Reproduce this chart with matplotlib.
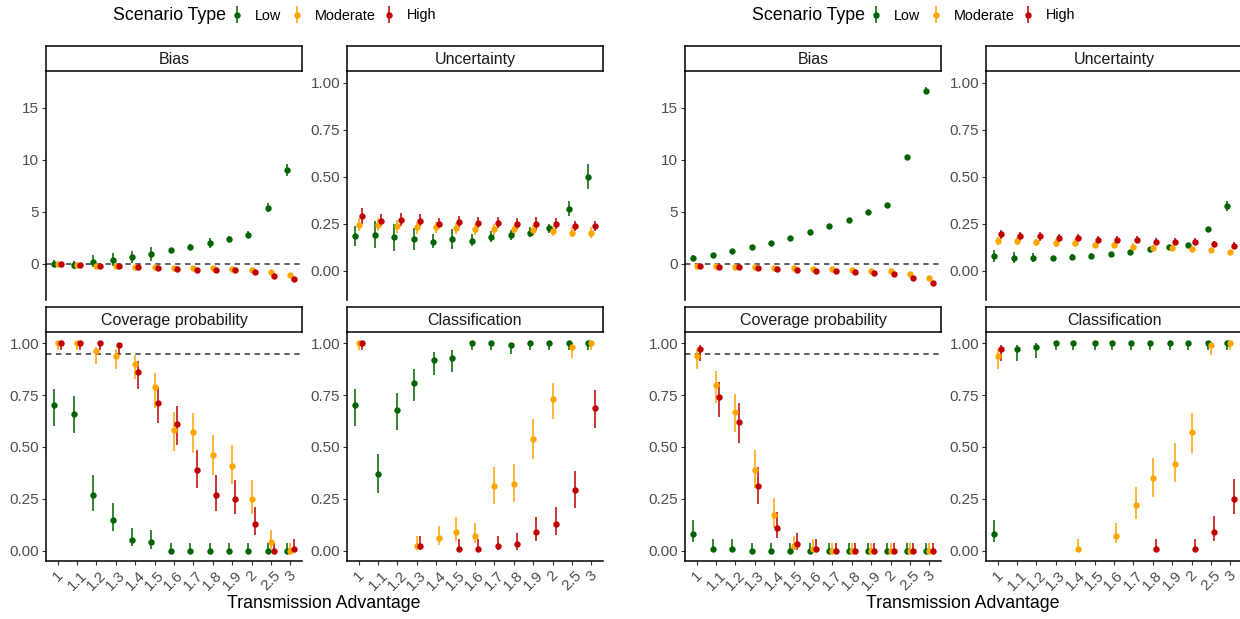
import numpy as np
import matplotlib.pyplot as plt
from matplotlib import font_manager

plt.rcParams['font.family'] = ['Liberation Sans', 'DejaVu Sans']

# narrower face for the legend and axis title when it is available
_installed = {f.name for f in font_manager.fontManager.ttflist}
if 'Liberation Sans Narrow' in _installed:
    narrow_family, narrow_scale = 'Liberation Sans Narrow', 1.0
else:
    narrow_family, narrow_scale = 'Liberation Sans', 0.88

nan = np.nan

categories = ['1', '1.1', '1.2', '1.3', '1.4', '1.5', '1.6', '1.7', '1.8', '1.9', '2', '2.5', '3']
groups = ['Low', 'Moderate', 'High']
group_colors = ['#006400', '#FFA500', '#C00000']

# ---- left figure: estimate / lower / upper, rows are Low, Moderate, High ----
a_bias_est = [
    [0.0, -0.1, 0.2, 0.4, 0.6, 0.9, 1.3, 1.6, 2.0, 2.4, 2.8, 5.4, 9.0],
    [-0.06, -0.13, -0.22, -0.26, -0.32, -0.35, -0.42, -0.42, -0.45, -0.50, -0.58, -0.80, -1.13],
    [0.0, -0.10, -0.22, -0.26, -0.35, -0.45, -0.48, -0.58, -0.60, -0.65, -0.77, -1.19, -1.48],
]
a_bias_lo = [
    [-0.3, -0.5, -0.3, -0.2, 0.1, 0.3, 1.1, 1.4, 1.5, 2.2, 2.5, 5.0, 8.4],
    [-0.14, -0.21, -0.30, -0.34, -0.40, -0.43, -0.50, -0.50, -0.53, -0.58, -0.66, -0.90, -1.23],
    [-0.08, -0.18, -0.30, -0.34, -0.43, -0.53, -0.56, -0.66, -0.68, -0.73, -0.85, -1.29, -1.58],
]
a_bias_hi = [
    [0.4, 0.3, 0.8, 1.0, 1.2, 1.6, 1.5, 1.9, 2.5, 2.7, 3.1, 5.8, 9.6],
    [0.02, -0.05, -0.14, -0.18, -0.24, -0.27, -0.34, -0.34, -0.37, -0.42, -0.50, -0.70, -1.03],
    [0.08, -0.02, -0.14, -0.18, -0.27, -0.37, -0.40, -0.50, -0.52, -0.57, -0.69, -1.09, -1.38],
]

a_unc_est = [
    [0.186, 0.19, 0.18, 0.17, 0.155, 0.17, 0.16, 0.18, 0.19, 0.20, 0.225, 0.33, 0.50],
    [0.245, 0.245, 0.235, 0.23, 0.23, 0.225, 0.22, 0.22, 0.22, 0.215, 0.21, 0.20, 0.20],
    [0.29, 0.265, 0.268, 0.265, 0.25, 0.26, 0.255, 0.255, 0.25, 0.25, 0.25, 0.24, 0.235],
]
a_unc_lo = [
    [0.13, 0.12, 0.105, 0.11, 0.12, 0.115, 0.13, 0.15, 0.165, 0.18, 0.20, 0.29, 0.435],
    [0.21, 0.21, 0.20, 0.195, 0.20, 0.195, 0.19, 0.19, 0.19, 0.19, 0.185, 0.18, 0.175],
    [0.25, 0.235, 0.235, 0.235, 0.225, 0.23, 0.225, 0.225, 0.22, 0.215, 0.22, 0.21, 0.21],
]
a_unc_hi = [
    [0.24, 0.265, 0.25, 0.225, 0.195, 0.22, 0.195, 0.21, 0.215, 0.23, 0.25, 0.37, 0.565],
    [0.28, 0.28, 0.27, 0.26, 0.26, 0.255, 0.25, 0.25, 0.245, 0.245, 0.24, 0.23, 0.23],
    [0.335, 0.30, 0.305, 0.30, 0.28, 0.29, 0.285, 0.285, 0.28, 0.285, 0.28, 0.265, 0.265],
]

a_cov_est = [
    [0.70, 0.66, 0.27, 0.15, 0.05, 0.04, 0.0, 0.0, 0.0, 0.0, 0.0, 0.0, 0.0],
    [1.0, 1.0, 0.96, 0.94, 0.90, 0.79, 0.58, 0.57, 0.46, 0.41, 0.25, 0.04, 0.0],
    [1.0, 1.0, 1.0, 0.99, 0.86, 0.71, 0.61, 0.39, 0.27, 0.25, 0.13, 0.0, 0.01],
]
a_cov_lo = [
    [0.60, 0.565, 0.19, 0.095, 0.02, 0.01, 0.0, 0.0, 0.0, 0.0, 0.0, 0.0, 0.0],
    [0.965, 0.965, 0.90, 0.875, 0.826, 0.69, 0.48, 0.47, 0.365, 0.32, 0.175, 0.01, 0.0],
    [0.965, 0.965, 0.965, 0.95, 0.778, 0.614, 0.51, 0.30, 0.193, 0.175, 0.076, 0.0, 0.002],
]
a_cov_hi = [
    [0.78, 0.745, 0.365, 0.23, 0.11, 0.10, 0.035, 0.035, 0.035, 0.035, 0.035, 0.035, 0.035],
    [1.0, 1.0, 0.984, 0.97, 0.945, 0.858, 0.67, 0.662, 0.558, 0.508, 0.34, 0.10, 0.035],
    [1.0, 1.0, 1.0, 1.0, 0.915, 0.788, 0.698, 0.486, 0.365, 0.341, 0.209, 0.035, 0.055],
]

a_cls_est = [
    [0.70, 0.37, 0.68, 0.81, 0.92, 0.93, 1.0, 1.0, 0.99, 1.0, 1.0, 1.0, 1.0],
    [1.0, nan, nan, 0.02, 0.06, 0.09, 0.07, 0.31, 0.32, 0.54, 0.73, 0.98, 1.0],
    [1.0, nan, nan, 0.02, nan, 0.01, 0.01, 0.02, 0.03, 0.09, 0.13, 0.29, 0.69],
]
a_cls_lo = [
    [0.60, 0.28, 0.582, 0.722, 0.849, 0.863, 0.965, 0.965, 0.95, 0.965, 0.965, 0.965, 0.965],
    [0.965, nan, nan, 0.002, 0.025, 0.045, 0.035, 0.225, 0.235, 0.44, 0.635, 0.93, 0.965],
    [0.965, nan, nan, 0.002, nan, 0.0, 0.0, 0.002, 0.005, 0.045, 0.075, 0.206, 0.593],
]
a_cls_hi = [
    [0.78, 0.466, 0.762, 0.875, 0.957, 0.965, 1.0, 1.0, 1.0, 1.0, 1.0, 1.0, 1.0],
    [1.0, nan, nan, 0.07, 0.12, 0.16, 0.135, 0.405, 0.416, 0.635, 0.807, 1.0, 1.0],
    [1.0, nan, nan, 0.07, nan, 0.055, 0.055, 0.07, 0.085, 0.16, 0.21, 0.386, 0.772],
]

# ---- right figure ----
b_bias_est = [
    [0.58, 0.87, 1.19, 1.61, 2.03, 2.48, 3.02, 3.60, 4.24, 4.95, 5.66, 10.32, 16.66],
    [-0.19, -0.22, -0.29, -0.35, -0.42, -0.45, -0.51, -0.55, -0.61, -0.68, -0.74, -1.03, -1.38],
    [-0.22, -0.29, -0.35, -0.45, -0.55, -0.61, -0.68, -0.74, -0.84, -0.93, -1.00, -1.41, -1.83],
]
b_bias_lo = [
    [0.35, 0.70, 1.05, 1.50, 1.95, 2.40, 2.95, 3.50, 4.15, 4.85, 5.55, 10.20, 16.30],
    [-0.27, -0.30, -0.37, -0.43, -0.50, -0.53, -0.59, -0.63, -0.69, -0.76, -0.82, -1.13, -1.48],
    [-0.30, -0.37, -0.43, -0.53, -0.63, -0.69, -0.76, -0.82, -0.92, -1.01, -1.08, -1.51, -1.93],
]
b_bias_hi = [
    [0.80, 1.05, 1.35, 1.75, 2.12, 2.58, 3.10, 3.70, 4.33, 5.05, 5.78, 10.45, 17.00],
    [-0.11, -0.14, -0.21, -0.27, -0.34, -0.37, -0.43, -0.47, -0.53, -0.60, -0.66, -0.93, -1.28],
    [-0.14, -0.21, -0.27, -0.37, -0.47, -0.53, -0.60, -0.66, -0.76, -0.85, -0.92, -1.31, -1.73],
]

b_unc_est = [
    [0.078, 0.07, 0.07, 0.066, 0.074, 0.08, 0.09, 0.10, 0.113, 0.124, 0.137, 0.22, 0.344],
    [0.158, 0.158, 0.15, 0.147, 0.147, 0.137, 0.137, 0.128, 0.12, 0.119, 0.117, 0.11, 0.10],
    [0.193, 0.183, 0.183, 0.174, 0.172, 0.165, 0.165, 0.165, 0.154, 0.154, 0.154, 0.142, 0.133],
]
b_unc_lo = [
    [0.045, 0.04, 0.045, 0.06, 0.06, 0.07, 0.08, 0.092, 0.105, 0.116, 0.128, 0.21, 0.32],
    [0.138, 0.138, 0.13, 0.127, 0.125, 0.12, 0.12, 0.112, 0.106, 0.105, 0.104, 0.10, 0.09],
    [0.17, 0.16, 0.16, 0.152, 0.15, 0.145, 0.145, 0.145, 0.135, 0.135, 0.135, 0.125, 0.117],
]
b_unc_hi = [
    [0.11, 0.10, 0.095, 0.072, 0.09, 0.095, 0.10, 0.108, 0.121, 0.132, 0.146, 0.23, 0.37],
    [0.178, 0.178, 0.17, 0.167, 0.168, 0.155, 0.155, 0.145, 0.135, 0.134, 0.131, 0.12, 0.11],
    [0.218, 0.206, 0.206, 0.196, 0.194, 0.185, 0.185, 0.185, 0.173, 0.173, 0.173, 0.16, 0.15],
]

b_cov_est = [
    [0.08, 0.01, 0.01, 0.0, 0.0, 0.0, 0.0, 0.0, 0.0, 0.0, 0.0, 0.0, 0.0],
    [0.94, 0.80, 0.67, 0.39, 0.17, 0.02, 0.01, 0.0, 0.0, 0.0, 0.0, 0.0, 0.0],
    [0.97, 0.74, 0.62, 0.31, 0.11, 0.03, 0.01, 0.0, 0.0, 0.0, 0.0, 0.0, 0.0],
]
b_cov_lo = [
    [0.04, 0.0, 0.0, 0.0, 0.0, 0.0, 0.0, 0.0, 0.0, 0.0, 0.0, 0.0, 0.0],
    [0.875, 0.71, 0.574, 0.30, 0.11, 0.002, 0.0, 0.0, 0.0, 0.0, 0.0, 0.0, 0.0],
    [0.915, 0.646, 0.52, 0.225, 0.06, 0.005, 0.0, 0.0, 0.0, 0.0, 0.0, 0.0, 0.0],
]
b_cov_hi = [
    [0.15, 0.055, 0.055, 0.035, 0.035, 0.035, 0.035, 0.035, 0.035, 0.035, 0.035, 0.035, 0.035],
    [0.97, 0.868, 0.754, 0.486, 0.255, 0.07, 0.055, 0.035, 0.035, 0.035, 0.035, 0.035, 0.035],
    [0.99, 0.815, 0.71, 0.405, 0.185, 0.085, 0.055, 0.035, 0.035, 0.035, 0.035, 0.035, 0.035],
]

b_cls_est = [
    [0.08, 0.97, 0.98, 1.0, 1.0, 1.0, 1.0, 1.0, 1.0, 1.0, 1.0, 1.0, 1.0],
    [0.94, nan, nan, nan, 0.01, nan, 0.07, 0.22, 0.35, 0.42, 0.57, 0.99, 1.0],
    [0.97, nan, nan, nan, nan, nan, nan, nan, 0.01, nan, 0.01, 0.09, 0.25],
]
b_cls_lo = [
    [0.04, 0.915, 0.93, 0.965, 0.965, 0.965, 0.965, 0.965, 0.965, 0.965, 0.965, 0.965, 0.965],
    [0.875, nan, nan, nan, 0.0, nan, 0.035, 0.151, 0.26, 0.33, 0.47, 0.945, 0.965],
    [0.915, nan, nan, nan, nan, nan, nan, nan, 0.0, nan, 0.0, 0.045, 0.175],
]
b_cls_hi = [
    [0.15, 0.99, 1.0, 1.0, 1.0, 1.0, 1.0, 1.0, 1.0, 1.0, 1.0, 1.0, 1.0],
    [0.97, nan, nan, nan, 0.055, nan, 0.135, 0.309, 0.445, 0.518, 0.665, 1.0, 1.0],
    [0.99, nan, nan, nan, nan, nan, nan, nan, 0.055, nan, 0.055, 0.165, 0.345],
]

W, H = 1240, 619
fig = plt.figure(figsize=(W / 100, H / 100), dpi=100)


def rect(x0, y0, x1, y1):
    return [x0 / W, 1 - y1 / H, (x1 - x0) / W, (y1 - y0) / H]


def dodge_positions(est, width=0.5):
    # like position_dodge: spread only the groups that have a value at each x
    est = np.asarray(est, dtype=float)
    pos = np.full(est.shape, nan)
    for i in range(est.shape[1]):
        present = [g for g in range(est.shape[0]) if not np.isnan(est[g, i])]
        n = len(present)
        for k, g in enumerate(present):
            pos[g, i] = (i + 1) + (k - (n - 1) / 2) * width / n
    return pos


def panel(x0, y0, x1, y1, title, est, lo, hi, ylim, yticks, yticklabels, ref=None, bottom=False):
    ax = fig.add_axes(rect(x0, y0, x1, y1))
    ax.patch.set_visible(False)
    pos = dodge_positions(est)
    for g in range(3):
        ax.vlines(pos[g], lo[g], hi[g], color=group_colors[g], lw=1.3, alpha=0.85, zorder=3)
        ax.plot(pos[g], est[g], 'o', color=group_colors[g], ms=4.6, mew=0, zorder=4)
    if ref is not None:
        ax.axhline(ref, color='#333333', lw=1.1, ls=(0, (3.5, 3)), zorder=2)
    ax.set_xlim(0.4, 13.6)
    ax.set_ylim(*ylim)
    ax.set_yticks(yticks)
    ax.set_yticklabels(yticklabels)
    for s in ['top', 'right']:
        ax.spines[s].set_visible(False)
    ax.spines['left'].set_linewidth(1.1)
    ax.tick_params(axis='y', length=3, width=0.8, color='#333333', labelsize=11,
                   labelcolor='#4D4D4D', pad=2)
    if bottom:
        ax.spines['bottom'].set_linewidth(1.1)
        ax.set_xticks(range(1, 14))
        ax.set_xticklabels(categories, rotation=45, ha='center', va='top')
        ax.tick_params(axis='x', length=3, width=0.8, color='#333333', labelsize=11,
                       labelcolor='#4D4D4D', pad=2)
    else:
        ax.spines['bottom'].set_visible(False)
        ax.set_xticks([])

    # facet strip above the panel
    sax = fig.add_axes(rect(x0, y0 - 25, x1, y0))
    sax.set_xticks([])
    sax.set_yticks([])
    for s in sax.spines.values():
        s.set_linewidth(1.1)
    sax.text(0.5, 0.45, title, ha='center', va='center', fontsize=11.5, color='#1A1A1A')
    return ax


def legend(xoff):
    fig.text((113 + xoff) / W, 1 - 15 / H, 'Scenario Type', family=narrow_family,
             fontsize=14.5 * narrow_scale, ha='left', va='center', color='black')
    lax = fig.add_axes(rect(xoff, 0, xoff + 620, 30))
    lax.set_xlim(xoff, xoff + 620)
    lax.set_ylim(30, 0)
    lax.axis('off')
    key_x = [237, 297, 389]
    for g in range(3):
        kx = key_x[g] + xoff
        lax.vlines(kx, 6, 23, color=group_colors[g], lw=1.3, alpha=0.85)
        lax.plot(kx, 14.5, 'o', color=group_colors[g], ms=4.6, mew=0)
        lax.text(kx + 18, 15.5, groups[g], family=narrow_family, fontsize=11.8 * narrow_scale,
                 ha='left', va='center')


unc_ticks = [0, 0.25, 0.5, 0.75, 1.0]
unc_labels = ['0.00', '0.25', '0.50', '0.75', '1.00']

halves = [
    (0, a_bias_est, a_bias_lo, a_bias_hi, a_unc_est, a_unc_lo, a_unc_hi,
     a_cov_est, a_cov_lo, a_cov_hi, a_cls_est, a_cls_lo, a_cls_hi),
    (639, b_bias_est, b_bias_lo, b_bias_hi, b_unc_est, b_unc_lo, b_unc_hi,
     b_cov_est, b_cov_lo, b_cov_hi, b_cls_est, b_cls_lo, b_cls_hi),
]

for (xo, be, bl, bh, ue, ul, uh, ce, cl, ch, ke, kl, kh) in halves:
    panel(46 + xo, 71, 302 + xo, 300, 'Bias', be, bl, bh, (-3.5, 18.56),
          [0, 5, 10, 15], ['0', '5', '10', '15'], ref=0)
    panel(347 + xo, 71, 603 + xo, 300, 'Uncertainty', ue, ul, uh, (-0.156, 1.062),
          unc_ticks, unc_labels)
    panel(46 + xo, 332, 302 + xo, 561, 'Coverage probability', ce, cl, ch, (-0.05, 1.054),
          unc_ticks, unc_labels, ref=0.95, bottom=True)
    panel(347 + xo, 332, 603 + xo, 561, 'Classification', ke, kl, kh, (-0.05, 1.054),
          unc_ticks, unc_labels, bottom=True)
    fig.text((324 + xo) / W, 1 - 603 / H, 'Transmission Advantage', family=narrow_family,
             fontsize=14.5 * narrow_scale, ha='center', va='center')
    legend(xo)

fig.savefig('out.png', dpi=100)
